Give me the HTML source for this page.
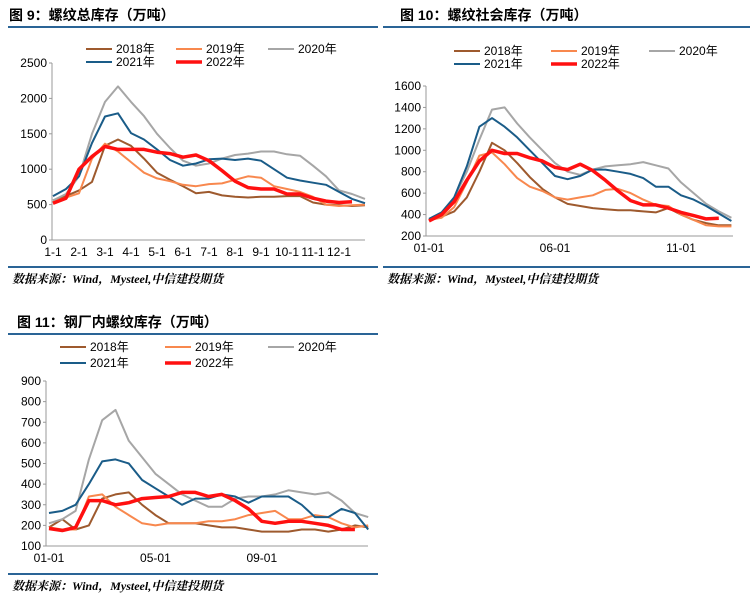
<!DOCTYPE html>
<html><head><meta charset="utf-8">
<style>
body{margin:0;width:753px;height:601px;background:#fff;overflow:hidden;font-family:"Liberation Sans","Noto Sans CJK SC",sans-serif;}
svg{position:absolute;left:0;top:0}
</style></head>
<body>
<svg id="s" width="753" height="601"></svg>
<script>
// ---- Chart 9: total rebar inventory (half-month samples, months 0..12) ----
const c1Ticks=[0,500,1000,1500,2000,2500];
const c1XLabels=["1-1","2-1","3-1","4-1","5-1","6-1","7-1","8-1","9-1","10-1","11-1","12-1"];
const c1_2018=[560,620,700,820,1330,1420,1330,1150,950,850,760,660,680,630,610,600,610,610,620,620,530,500,490,480,490];
const c1_2019=[540,600,660,1150,1360,1250,1100,950,870,830,780,760,790,800,850,900,880,760,720,680,610,500,480,490,500];
const c1_2020=[560,650,900,1500,1950,2170,1950,1750,1500,1300,1120,1050,1080,1150,1200,1220,1250,1250,1210,1190,1050,900,700,650,580];
const c1_2021=[620,720,900,1370,1745,1790,1510,1420,1280,1130,1050,1080,1140,1150,1130,1150,1120,1000,880,840,810,780,680,580,520];
const c1_2022=[520,590,1000,1180,1320,1280,1280,1280,1240,1220,1170,1200,1120,980,830,740,720,720,650,650,590,550,530,540,null];
// ---- Chart 10: social inventory ----
const c2Ticks=[200,400,600,800,1000,1200,1400,1600];
const c2XLabels=["01-01","06-01","11-01"];
const c2_2018=[350,380,430,560,800,1070,1000,880,750,640,560,500,480,460,450,440,440,430,420,460,400,350,320,300,300];
const c2_2019=[350,370,470,700,950,980,870,740,660,620,560,540,560,580,630,640,600,540,490,480,400,350,300,290,290];
const c2_2020=[360,400,560,800,1100,1380,1400,1250,1120,1000,880,800,770,820,850,860,870,890,860,830,700,600,500,430,370];
const c2_2021=[360,420,560,850,1220,1300,1220,1120,1000,880,760,730,760,820,820,800,780,740,660,660,580,540,480,410,340];
const c2_2022=[340,400,520,720,900,1000,970,970,930,900,840,820,870,810,720,620,530,490,490,460,420,390,360,365,null];
// ---- Chart 11: mill inventory ----
const c3Ticks=[100,200,300,400,500,600,700,800,900];
const c3XLabels=["01-01","05-01","09-01"];
const c3_2018=[190,230,180,200,330,350,360,300,250,210,210,210,200,190,190,180,170,170,170,180,180,170,180,200,190];
const c3_2019=[190,180,180,340,350,290,250,210,200,210,210,210,220,220,230,250,260,270,230,230,250,240,210,190,200];
const c3_2020=[210,230,270,520,710,760,610,530,450,400,350,320,290,290,330,340,340,350,370,360,350,360,320,260,240];
const c3_2021=[260,270,300,400,510,520,500,420,380,340,300,330,330,350,340,310,340,340,340,300,240,240,280,260,180];
const c3_2022=[185,175,190,320,320,300,310,330,335,340,360,360,340,350,320,280,220,210,220,220,210,200,180,180,null];

const NS="http://www.w3.org/2000/svg";
const svg=document.getElementById('s');
function el(tag,attrs,parent,text){const e=document.createElementNS(NS,tag);for(const k in attrs)e.setAttribute(k,attrs[k]);if(text!==undefined)e.textContent=text;(parent||svg).appendChild(e);return e;}
const COL={"2018":"#9E5A2E","2019":"#F8884E","2020":"#A6A6A6","2021":"#1A5C88","2022":"#FF1010"};
const WID={"2018":2,"2019":2,"2020":2,"2021":2,"2022":3.5};

function drawChart(o){
  const g=el('g',{});
  
  
  const t=el('text',{x:o.tx,y:o.ty,'font-size':14,'font-weight':'bold',fill:'#000'},g,o.title);
  
  
  const l1=el('rect',{x:o.lx0,y:o.ly1,width:o.lx1-o.lx0,height:2,fill:'#2A6496'},g);
  
  
  const l2=el('rect',{x:o.lx0,y:o.ly2,width:o.lx1-o.lx0,height:2,fill:'#2A6496'},g);
  
  
  const f=el('text',{x:o.lx0+4,y:o.ly2+17,'font-size':12,'font-weight':'bold','font-style':'italic',fill:'#000','font-family':'"Liberation Serif","Noto Serif CJK SC",serif'},g,'数据来源：Wind，Mysteel,中信建投期货');
  
  
  const ymin=o.ticks[0],ymax=o.ticks[o.ticks.length-1];
  const Y=v=>o.y0-(v-ymin)/(ymax-ymin)*(o.y0-o.y1);
  const X=m=>o.x0+m*o.mw;
  const ya=el('line',{x1:o.ax,y1:o.y1,x2:o.ax,y2:o.y0,stroke:'#999','stroke-width':1},g);
  
  
  const xa=el('line',{x1:o.ax,y1:o.y0,x2:o.xend,y2:o.y0,stroke:'#999','stroke-width':1},g);
  
  
  o.ticks.forEach(v=>{
    const tk=el('line',{x1:o.ax-3,y1:Y(v),x2:o.ax,y2:Y(v),stroke:'#999'},g);
    
    
    const tl=el('text',{x:o.ax-5,y:Y(v)+4,'font-size':12,'text-anchor':'end',fill:'#000'},g,String(v));
    
    
  });
  o.xlabels.forEach((s,i)=>{
    const m=i*o.xstep;
    const tl=el('text',{x:X(m),y:o.y0+16,'font-size':12,'text-anchor':'middle',fill:'#000'},g,s);
    
    
  });
  ["2018","2019","2020","2021","2022"].forEach(yr=>{
    const d=o.series[yr];let p='';
    d.forEach((v,i)=>{if(v===null)return;p+=(p?'L':'M')+X(i*0.5).toFixed(1)+','+Y(v).toFixed(1);});
    const path=el('path',{d:p,fill:'none',stroke:COL[yr],'stroke-width':WID[yr],'stroke-linejoin':'round'},g);
    
    
  });
  o.legend.forEach(([yr,lx,ly])=>{
    const lg=el('line',{x1:lx,y1:ly,x2:lx+26,y2:ly,stroke:COL[yr],'stroke-width':WID[yr]},g);
    
    
    const lt=el('text',{x:lx+30,y:ly+4,'font-size':12,fill:'#000'},g,yr+'年');
    
    
  });
}

drawChart({name:'chart-total-inventory',title:'图 9：螺纹总库存（万吨）',tx:9,ty:20,lx0:8,lx1:378,ly1:26,ly2:266,
  ticks:c1Ticks,y0:240,y1:63,ax:52,x0:53,mw:26,xend:365,xlabels:c1XLabels,xstep:1,
  series:{"2018":c1_2018,"2019":c1_2019,"2020":c1_2020,"2021":c1_2021,"2022":c1_2022},
  legend:[["2018",86,49],["2019",176,49],["2020",268,49],["2021",86,62],["2022",176,62]]});
drawChart({name:'chart-social-inventory',title:'图 10：螺纹社会库存（万吨）',tx:400,ty:20,lx0:383,lx1:750,ly1:26,ly2:266,
  ticks:c2Ticks,y0:236,y1:86,ax:426,x0:429,mw:25.2,xend:733,xlabels:c2XLabels,xstep:5,
  series:{"2018":c2_2018,"2019":c2_2019,"2020":c2_2020,"2021":c2_2021,"2022":c2_2022},
  legend:[["2018",454,51],["2019",551,51],["2020",649,51],["2021",454,64],["2022",551,64]]});
drawChart({name:'chart-mill-inventory',title:'图 11：钢厂内螺纹库存（万吨）',tx:17,ty:327,lx0:8,lx1:378,ly1:333,ly2:573,
  ticks:c3Ticks,y0:546,y1:381,ax:46,x0:49,mw:26.6,xend:368,xlabels:c3XLabels,xstep:4,
  series:{"2018":c3_2018,"2019":c3_2019,"2020":c3_2020,"2021":c3_2021,"2022":c3_2022},
  legend:[["2018",60,347],["2019",165,347],["2020",268,347],["2021",60,363],["2022",165,363]]});
</script>
</body></html>
